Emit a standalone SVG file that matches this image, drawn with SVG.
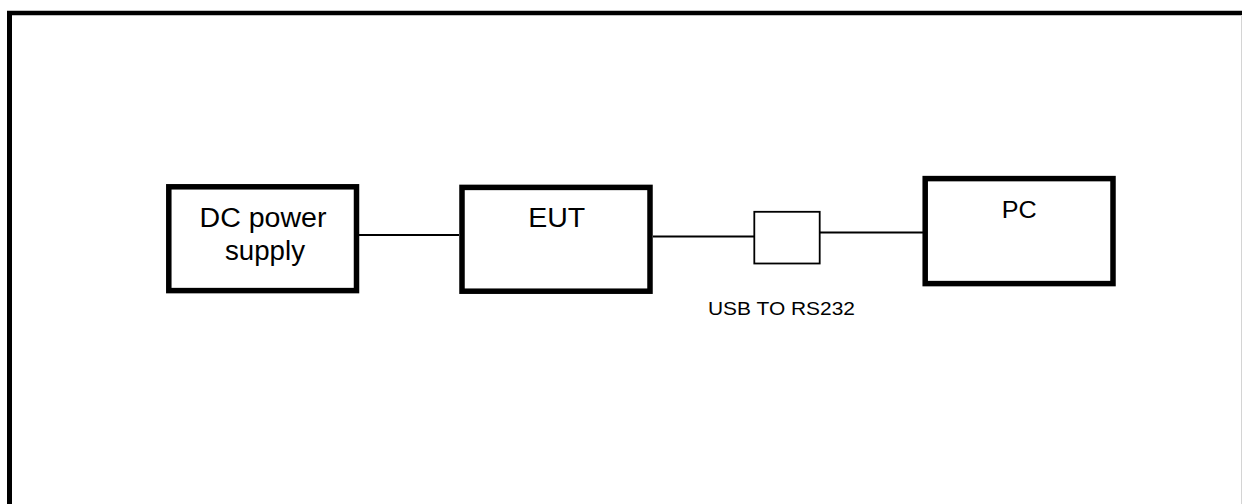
<svg xmlns="http://www.w3.org/2000/svg" width="1242" height="504" viewBox="0 0 1242 504">
<style>
.frame{stroke:#000;fill:none}
.box{fill:#fff;stroke:#000;stroke-width:5.5}
.small{fill:#fff;stroke:#000;stroke-width:1.8}
.wire{stroke:#000;stroke-width:1.8;fill:none}
.lbl{font-family:"Liberation Sans",Arial,sans-serif;fill:#000;text-anchor:middle}
</style>
<rect x="0" y="0" width="1242" height="504" fill="#fff"/>
<g id="frame">
<line class="frame" x1="7" y1="13" x2="1242" y2="13" stroke-width="4.5"/>
<line class="frame" x1="9.5" y1="11" x2="9.5" y2="504" stroke-width="5"/>
<line x1="1241.5" y1="15" x2="1241.5" y2="504" stroke="#d4d4d4" stroke-width="1"/>
</g>
<g id="connectors">
<line class="wire" x1="359" y1="235" x2="459" y2="235"/>
<line class="wire" x1="653" y1="236.5" x2="754" y2="236.5"/>
<line class="wire" x1="820" y1="232.5" x2="923" y2="232.5"/>
</g>
<g id="dc">
<rect class="box" x="168.8" y="186.8" width="187.7" height="103.8"/>
<text class="lbl" x="263" y="226.7" font-size="27" textLength="127" lengthAdjust="spacingAndGlyphs">DC power</text>
<text class="lbl" x="265" y="260" font-size="27" textLength="80" lengthAdjust="spacingAndGlyphs">supply</text>
</g>
<g id="eut">
<rect class="box" x="462" y="187.4" width="188" height="103.8"/>
<text class="lbl" x="556.7" y="226.7" font-size="27.5" textLength="57" lengthAdjust="spacingAndGlyphs">EUT</text>
</g>
<g id="usb">
<rect class="small" x="754.3" y="211.8" width="65.4" height="51.7"/>
<text class="lbl" x="781.5" y="315" font-size="19" textLength="147" lengthAdjust="spacingAndGlyphs">USB TO RS232</text>
</g>
<g id="pc">
<rect class="box" x="925.2" y="178.6" width="187.8" height="105"/>
<text class="lbl" x="1019.2" y="217.7" font-size="23.5" textLength="35" lengthAdjust="spacingAndGlyphs">PC</text>
</g>
</svg>
